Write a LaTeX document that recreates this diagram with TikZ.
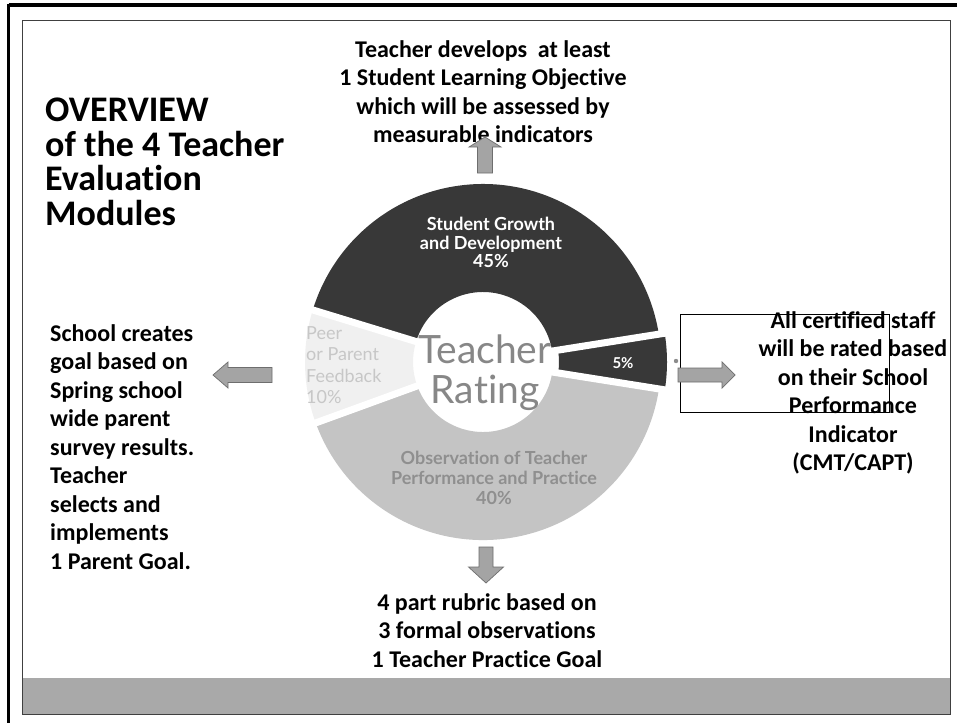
\documentclass[tikz,border=0pt]{standalone}
\usepackage{fontspec}
\setmainfont{Carlito}[Ligatures=CommonOff]
\newfontfamily\chartfont{Lato}[Ligatures=CommonOff]
\usetikzlibrary{calc}

\definecolor{segdark}{HTML}{383838}
\definecolor{segobs}{HTML}{C4C4C4}
\definecolor{segpeer}{HTML}{F0F0F0}
\definecolor{arrowfill}{HTML}{A4A4A4}
\definecolor{arrowline}{HTML}{6E6E6E}
\definecolor{bandgray}{HTML}{A9A9A9}

% block arrow: tail at (#1), direction #2 (deg), length #3, shaft #4, head width #5, head length #6
\newcommand{\blockarrow}[6]{%
  \begin{scope}[shift={(#1)}, rotate=#2]
    \filldraw[fill=arrowfill, draw=arrowline, line width=0.7pt]
      (0,-#4/2) -- (#3-#6,-#4/2) -- (#3-#6,-#5/2) -- (#3,0)
      -- (#3-#6,#5/2) -- (#3-#6,#4/2) -- (0,#4/2) -- cycle;
  \end{scope}}

\begin{document}
\begin{tikzpicture}[x=1pt, y=-1pt,
  bodytext/.style={font=\bfseries\fontsize{24}{28.5}\selectfont, inner sep=0pt, text=black},
  titletext/.style={font=\bfseries\fontsize{36}{34.5}\selectfont, inner sep=0pt, align=left},
  chartlabel/.style={font=\chartfont\bfseries\fontsize{18}{18.5}\selectfont, inner sep=0pt, align=center},
  sep/.style={white, line width=7pt}]

\useasboundingbox (0,0) rectangle (957,723);
\fill[white] (0,0) rectangle (957,723);

% page frame
\draw[line width=3.2pt] (8.6,5) -- (957,5);
\draw[line width=2.8pt] (8.6,3.5) -- (8.6,723);
\fill[bandgray] (22,678) rectangle (950,714);
\draw[line width=0.9pt, black!75] (22,20) rectangle (950,714);

% donut chart
\coordinate (C) at (483,362);
\coordinate (C5) at (489,362);
\fill[segdark] ($(C)+(-9:178)$) arc[start angle=-9, end angle=-163, radius=178]
  -- ($(C)+(-163:70)$) arc[start angle=-163, end angle=-9, radius=70] -- cycle;
\fill[segpeer] ($(C)+(-163:178)$) arc[start angle=-163, end angle=-200, radius=178]
  -- ($(C)+(-200:70)$) arc[start angle=-200, end angle=-163, radius=70] -- cycle;
\fill[segobs] ($(C)+(-200:178)$) arc[start angle=-200, end angle=-351, radius=178]
  -- ($(C)+(-351:70)$) arc[start angle=-351, end angle=-200, radius=70] -- cycle;
\fill[segdark] ($(C5)+(-351:178)$) arc[start angle=-351, end angle=-369, radius=178]
  -- ($(C5)+(-369:70)$) arc[start angle=-369, end angle=-351, radius=70] -- cycle;
\draw[sep] (C) -- ($(C)+(-9:195)$);
\draw[sep] (C) -- ($(C)+(-163:195)$);
\draw[sep] (C) -- ($(C)+(-200:195)$);
\draw[sep] (C5) -- ($(C5)+(-351:195)$);
\fill[black!45] (676,361) circle (2.2);

% chart labels
\node[font=\chartfont\fontsize{39}{40}\selectfont, text=black!47, inner sep=0pt, align=center, anchor=north]
  (rating) at (485,335) {Teacher\\Rating};
\node[chartlabel, text=white, anchor=north] (growth) at (491,217)
  {Student Growth\\and Development\\45\%};
\node[chartlabel, text=black!22, align=left, anchor=north west,
  font=\chartfont\fontsize{18}{21.5}\selectfont] (peer) at (306,326)
  {Peer\\or Parent\\Feedback\\10\%};
\node[chartlabel, text=black!44, anchor=north,
  font=\chartfont\bfseries\fontsize{18}{20}\selectfont] (obs) at (494,451)
  {Observation of Teacher\\Performance and Practice\\40\%};
\node[chartlabel, text=white, font=\chartfont\bfseries\fontsize{15}{16}\selectfont] (five) at (623,363) {5\%};

% outline around the right-hand note
\draw[line width=0.8pt] (680,314) rectangle (889,412);

% descriptive texts
\node[titletext, anchor=north west] (title) at (45,98)
  {OVERVIEW\\of the 4 Teacher\\Evaluation\\Modules};
\node[bodytext, align=center, anchor=north] (slo) at (483,40)
  {Teacher develops\ \ at least\\1 Student Learning Objective\\which will be assessed by\\measurable indicators};
\node[bodytext, align=left, anchor=north west] (parent) at (50,324)
  {School creates\\goal based on\\Spring school\\wide parent\\survey results.\\Teacher\\selects and\\implements\\1 Parent Goal.};
\node[bodytext, align=center, anchor=north] (rubric) at (487,593)
  {4 part rubric based on\\3 formal observations\\1 Teacher Practice Goal};
\node[bodytext, align=center, anchor=north] (spi) at (853,311)
  {All certified staff\\will be rated based\\on their School\\Performance\\Indicator\\(CMT/CAPT)};

% block arrows from the chart to the notes
\blockarrow{485,173}{90}{36}{15}{32}{10}
\blockarrow{486,547}{-90}{36}{14}{35}{16}
\blockarrow{272,375}{180}{59}{15}{26}{15}
\blockarrow{678,375}{0}{57}{14}{26}{13}

\end{tikzpicture}
\end{document}
